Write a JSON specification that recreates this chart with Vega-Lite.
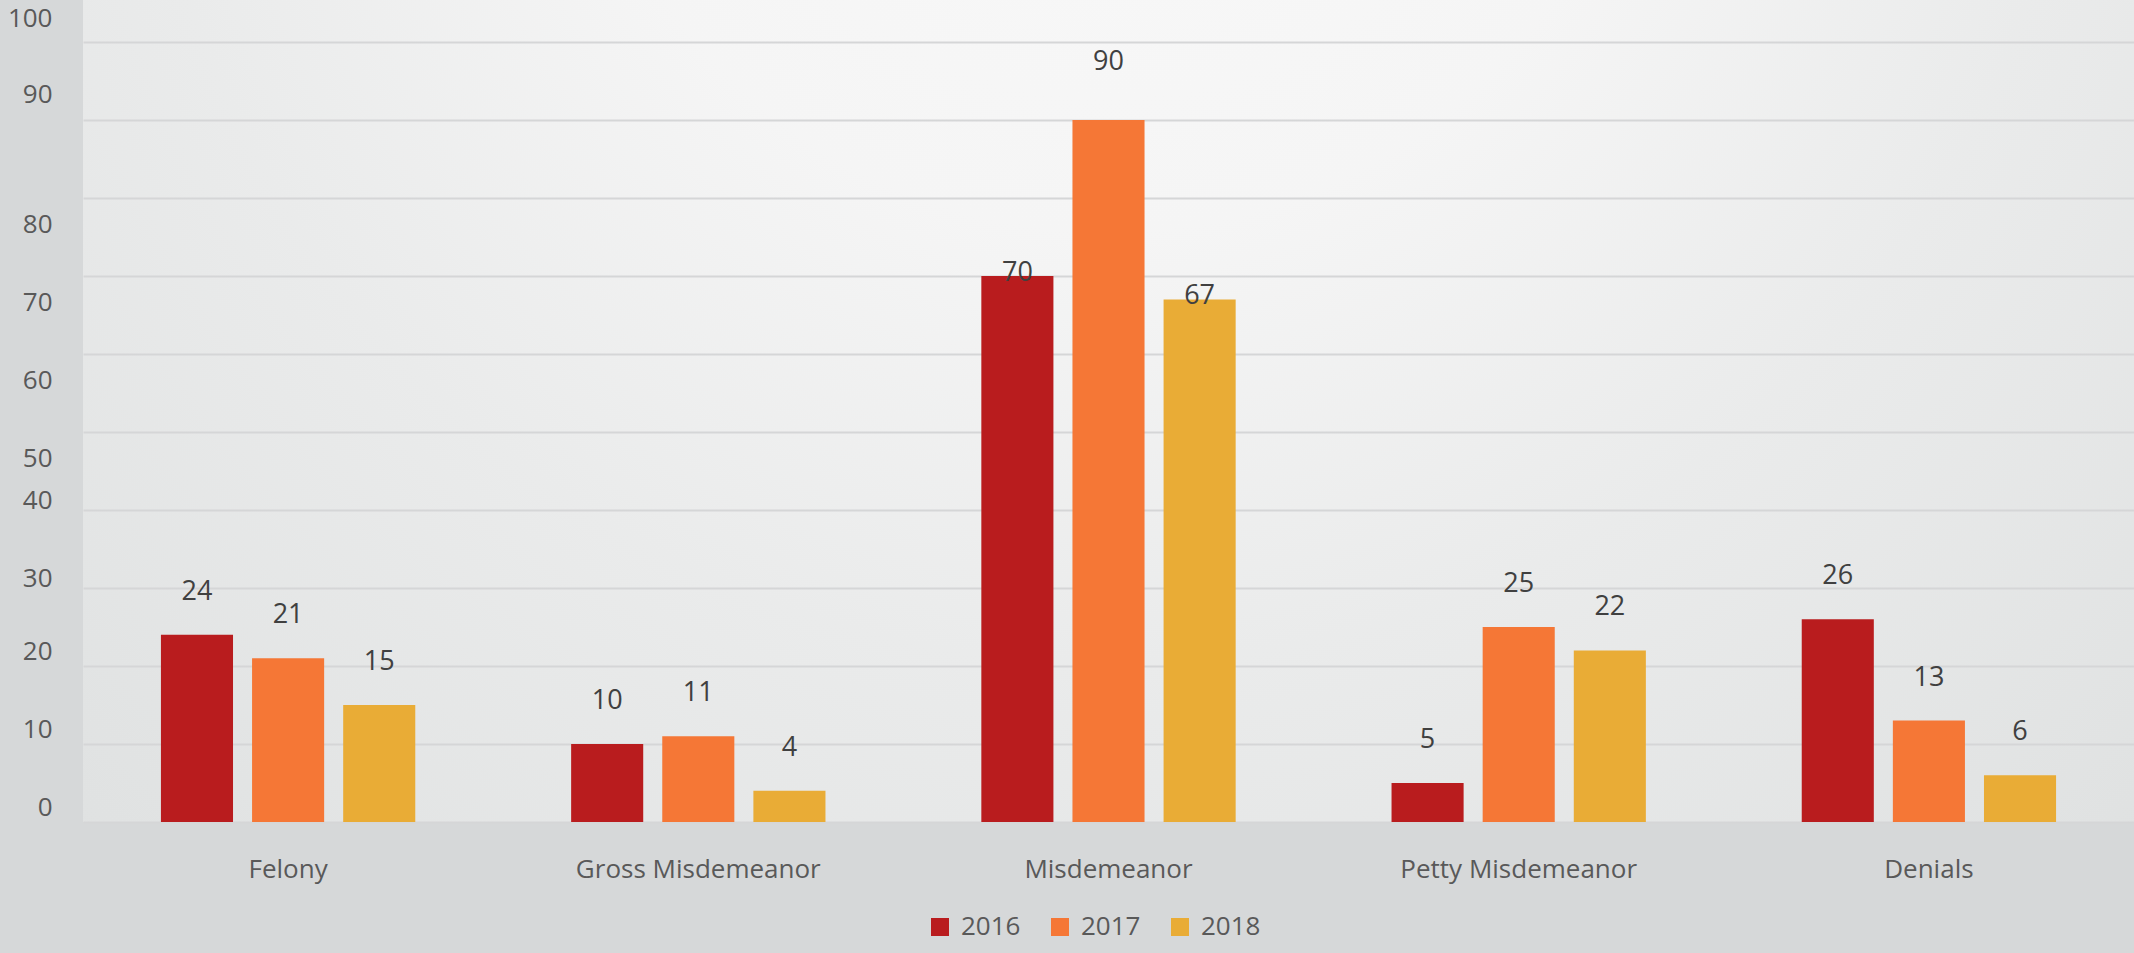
{
  "$schema": "https://vega.github.io/schema/vega-lite/v6.json",
  "width": 2051,
  "height": 822,
  "autosize": "none",
  "padding": {"left": 83, "top": 0, "right": 0, "bottom": 131},
  "background": "#d6d8d9",
  "config": {
    "font": "Open Sans",
    "view": {
      "stroke": null,
      "fill": {
        "gradient": "radial",
        "x1": 0.5, "y1": 0.15, "r1": 0,
        "x2": 0.5, "y2": 0.15, "r2": 1.05,
        "stops": [
          {"offset": 0, "color": "#f9f9f9"},
          {"offset": 0.25, "color": "#f5f5f5"},
          {"offset": 0.45, "color": "#eaebeb"},
          {"offset": 0.7, "color": "#e0e2e2"},
          {"offset": 1, "color": "#d0d3d4"}
        ]
      }
    }
  },
  "data": {
    "values": [
      {"category": "Felony", "year": "2016", "value": 24},
      {"category": "Felony", "year": "2017", "value": 21},
      {"category": "Felony", "year": "2018", "value": 15},
      {"category": "Gross Misdemeanor", "year": "2016", "value": 10},
      {"category": "Gross Misdemeanor", "year": "2017", "value": 11},
      {"category": "Gross Misdemeanor", "year": "2018", "value": 4},
      {"category": "Misdemeanor", "year": "2016", "value": 70},
      {"category": "Misdemeanor", "year": "2017", "value": 90},
      {"category": "Misdemeanor", "year": "2018", "value": 67},
      {"category": "Petty Misdemeanor", "year": "2016", "value": 5},
      {"category": "Petty Misdemeanor", "year": "2017", "value": 25},
      {"category": "Petty Misdemeanor", "year": "2018", "value": 22},
      {"category": "Denials", "year": "2016", "value": 26},
      {"category": "Denials", "year": "2017", "value": 13},
      {"category": "Denials", "year": "2018", "value": 6}
    ]
  },
  "encoding": {
    "x": {
      "field": "category",
      "type": "nominal",
      "sort": ["Felony", "Gross Misdemeanor", "Misdemeanor", "Petty Misdemeanor", "Denials"],
      "scale": {"paddingInner": 0.38, "paddingOuter": 0.19},
      "axis": {
        "title": null,
        "labelAngle": 0,
        "labelFontSize": 26,
        "labelColor": "#595959",
        "labelPadding": 34,
        "labelLimit": 0,
        "ticks": false,
        "tickSize": 0,
        "domain": false
      }
    },
    "xOffset": {
      "field": "year",
      "type": "nominal",
      "scale": {"paddingInner": 0.209, "paddingOuter": 0}
    },
    "y": {
      "field": "value",
      "type": "quantitative",
      "scale": {"domain": [0, 105.385], "nice": false},
      "axis": {
        "title": null,
        "values": [0, 10, 20, 30, 40, 50, 60, 70, 80, 90, 100],
        "labelFontSize": 26,
        "labelColor": "#595959",
        "labelPadding": 31,
        "ticks": false,
        "tickSize": 0,
        "domain": false,
        "gridColor": "#d5d6d7",
        "gridWidth": 2,
        "labelOffset": {
          "condition": [
            {"test": "datum.value >= 100", "value": -24},
            {"test": "datum.value >= 90", "value": -26},
            {"test": "datum.value >= 50", "value": 26},
            {"test": "datum.value >= 30", "value": -10}
          ],
          "value": -15
        }
      }
    }
  },
  "layer": [
    {
      "mark": {"type": "bar"},
      "encoding": {
        "color": {
          "field": "year",
          "type": "nominal",
          "scale": {"domain": ["2016", "2017", "2018"], "range": ["#b91c1e", "#f57736", "#e9ac36"]},
          "legend": {
            "title": null,
            "orient": "none",
            "legendX": 844,
            "legendY": 914,
            "direction": "horizontal",
            "symbolType": "square",
            "symbolSize": 324,
            "symbolStrokeWidth": 0,
            "labelFontSize": 26,
            "labelColor": "#595959",
            "labelOffset": 8,
            "columnPadding": 26
          }
        }
      }
    },
    {
      "transform": [{"filter": "datum.value < 60"}],
      "mark": {"type": "text", "fontSize": 27, "color": "#404040", "baseline": "middle", "dy": -43},
      "encoding": {"text": {"field": "value", "type": "quantitative"}}
    },
    {
      "transform": [{"filter": "datum.value >= 60 && datum.value < 80"}],
      "mark": {"type": "text", "fontSize": 27, "color": "#404040", "baseline": "middle", "dy": -3},
      "encoding": {"text": {"field": "value", "type": "quantitative"}}
    },
    {
      "transform": [{"filter": "datum.value >= 80"}],
      "mark": {"type": "text", "fontSize": 27, "color": "#404040", "baseline": "middle", "dy": -58},
      "encoding": {"text": {"field": "value", "type": "quantitative"}}
    }
  ]
}
